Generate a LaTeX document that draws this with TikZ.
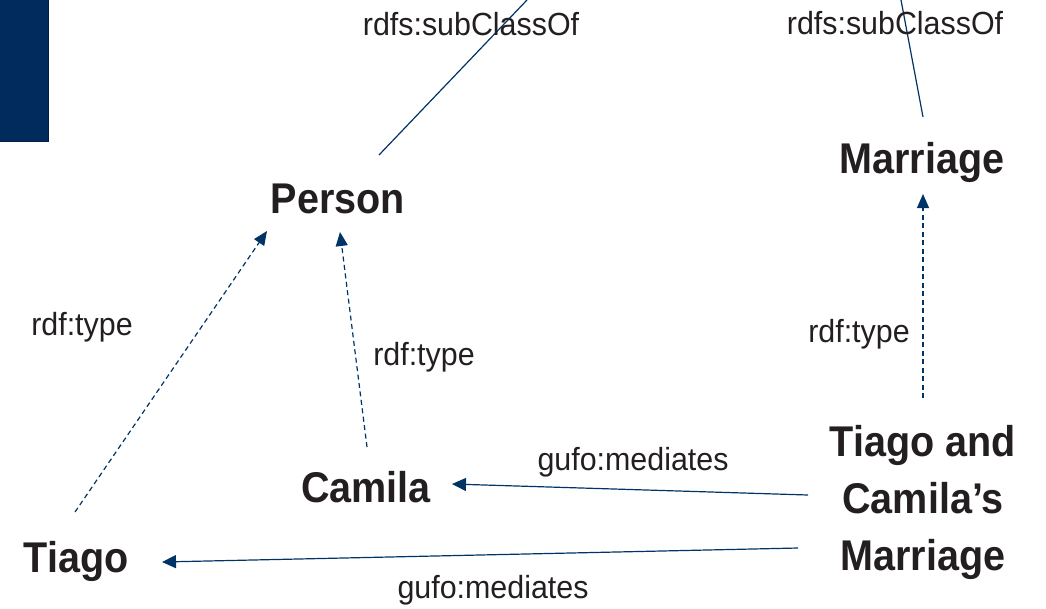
\documentclass[tikz,border=0pt]{standalone}
\usepackage{fontspec}
\usetikzlibrary{arrows.meta}
\setmainfont{Liberation Sans}
\newfontfamily\narrowsans{Liberation Sans}[FakeStretch=0.92]
\newfontfamily\labelsans{Liberation Sans}[FakeStretch=0.95]
\definecolor{edgeblue}{RGB}{0,51,102}
\definecolor{barblue}{RGB}{0,43,92}
\definecolor{inkgray}{RGB}{35,31,32}
\tikzset{
  term/.style={inner sep=0pt, text=inkgray, font=\narrowsans\bfseries\fontsize{43}{57}\selectfont},
  rel/.style={inner sep=0pt, text=inkgray, anchor=base, font=\labelsans\fontsize{32}{36}\selectfont},
  edge/.style={draw=edgeblue, line width=1.2pt},
  typeedge/.style={edge, dash pattern=on 5pt off 3.5pt, -{Triangle[length=14pt,width=12pt]}},
  mediates/.style={edge, -{Triangle[length=14pt,width=13pt]}},
  subclass/.style={edge}
}
\begin{document}
\begin{tikzpicture}[x=1pt,y=-1pt]
\useasboundingbox (0,0) rectangle (1046,608);
% corner bar
\fill[barblue] (0,0) rectangle (48.5,141);
\draw[barblue!70!black, line width=0.8pt] (48.5,0) -- (48.5,141) -- (0,141);

% class and instance terms
\node[term, anchor=base] (person) at (338,213) {Person};
\node[term, anchor=base] (marriage) at (922,173) {Marriage};
\node[term, anchor=base] (camila) at (366,502) {Camila};
\node[term, anchor=base] (tiago) at (76,572) {Tiago};
\node[term, anchor=north, align=center] (tcm) at (923,425) {Tiago and\\Camila’s\\Marriage};

% connector end points
\coordinate (personTop) at (379,155);
\coordinate (personUp) at (527,0);
\coordinate (marriageTop) at (923,117);
\coordinate (marriageUp) at (901,0);
\coordinate (tiagoTop) at (75,512);
\coordinate (personLeft) at (267,231);
\coordinate (camilaTop) at (367,447);
\coordinate (personBottom) at (340,232);
\coordinate (tcmTop) at (923,398);
\coordinate (marriageBottom) at (923,194);
\coordinate (tcmLeftA) at (808,495);
\coordinate (camilaRight) at (452,484);
\coordinate (tcmLeftB) at (798,548);
\coordinate (tiagoRight) at (162,562);

% subclass links leaving the top edge
\draw[subclass] (personTop) -- (personUp);
\draw[subclass] (marriageTop) -- (marriageUp);
\node[rel] (subA) at (471,35) {rdfs:subClassOf};
\node[rel] (subB) at (895,34) {rdfs:subClassOf};

% rdf:type links
\draw[typeedge] (tiagoTop) -- (personLeft);
\draw[typeedge] (camilaTop) -- (personBottom);
\draw[typeedge] (tcmTop) -- (marriageBottom);
\node[rel] (typeA) at (82,335) {rdf:type};
\node[rel] (typeB) at (424,365) {rdf:type};
\node[rel] (typeC) at (859,342) {rdf:type};

% gufo:mediates links
\draw[mediates] (tcmLeftA) -- (camilaRight);
\draw[mediates] (tcmLeftB) -- (tiagoRight);
\node[rel] (medA) at (633,470) {gufo:mediates};
\node[rel] (medB) at (493,598) {gufo:mediates};
\end{tikzpicture}
\end{document}
